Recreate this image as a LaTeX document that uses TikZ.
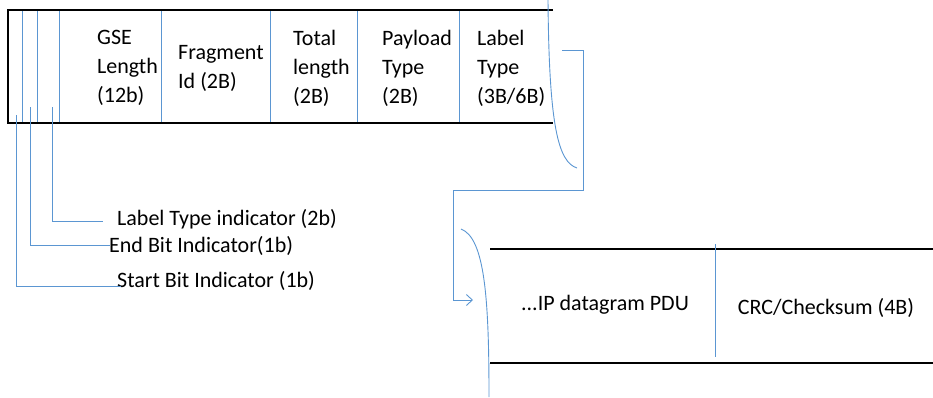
\documentclass[tikz,border=0pt]{standalone}
\usepackage{fontspec}
\setmainfont{Carlito}
\usetikzlibrary{arrows.meta}
\definecolor{lnblue}{RGB}{91,150,210}
\tikzset{
  frame/.style={line width=2.4pt,black},
  bl/.style={line width=0.9pt,lnblue},
  fieldtxt/.style={anchor=west,inner sep=0pt,align=left,font=\fontsize{22}{29}\selectfont},
  lbltxt/.style={anchor=west,inner sep=0pt,font=\fontsize{22}{26}\selectfont}
}
\begin{document}
\begin{tikzpicture}[x=1pt,y=-1pt]
\useasboundingbox (0,0) rectangle (933,397);
% top header box
\draw[frame] (553,10) -- (8,10) -- (8,123) -- (553,123);
\foreach \xx in {22,37,59,161,270,357,459}
  \draw[bl] (\xx,11) -- (\xx,122);
\node[fieldtxt] (gse) at (97,68) {GSE\\Length\\(12b)};
\node[fieldtxt] (frag) at (178,68) {Fragment\\Id (2B)};
\node[fieldtxt] (tot) at (293,68) {Total\\length\\(2B)};
\node[fieldtxt] (pay) at (382,68) {Payload\\Type\\(2B)};
\node[fieldtxt] (lab) at (477,68) {Label\\Type\\(3B/6B)};
% leader labels
\node[lbltxt] (lti) at (117,219) {Label Type indicator (2b)};
\node[lbltxt] (ebi) at (109,246) {End Bit Indicator(1b)};
\node[lbltxt] (sbi) at (117,281) {Start Bit Indicator (1b)};
\coordinate (ltiend) at (103,221);
\coordinate (ebiend) at (110,245);
\coordinate (sbiend) at (121,286);
\draw[bl] (52,107) |- (ltiend);
\draw[bl] (30,107) |- (ebiend);
\draw[bl] (16,115) |- (sbiend);
% break curves
\draw[bl] (548,0) .. controls (549,125) and (558,162) .. (577,168);
\draw[bl] (461,229) .. controls (485,238) and (489,300) .. (489,397);
% continuation connector
\coordinate (cstart) at (562,50);
\coordinate (cend) at (473,300);
\draw[bl,-{Straight Barb[length=6pt,width=11pt]}] (cstart) -- (583,50) -- (583,190) -- (453,190) -- (453,300) -- (cend);
% bottom box
\draw[frame] (490,249) -- (933,249);
\draw[frame] (490,363) -- (933,363);
\draw[bl] (715,244) -- (715,357);
\node[lbltxt,anchor=center] (ip) at (605,305) {...IP datagram PDU};
\node[lbltxt,anchor=center] (crc) at (826,308) {CRC/Checksum (4B)};
\end{tikzpicture}
\end{document}
